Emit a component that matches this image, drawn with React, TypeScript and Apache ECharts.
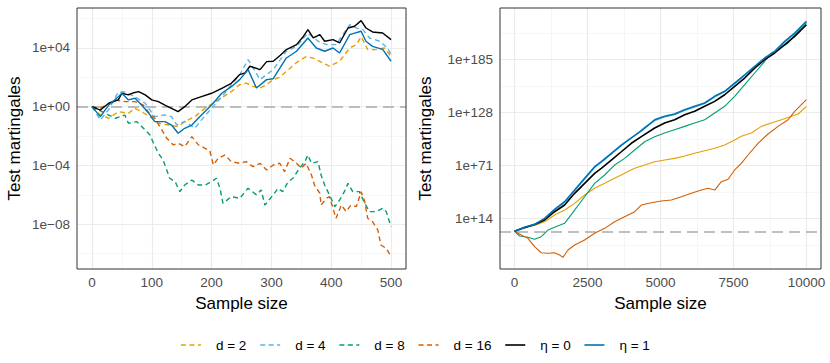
import React, { useEffect, useRef } from "react";
import * as echarts from "echarts";

// Values are log10 of the test martingale: [sample size, log10(value)]
const seriesNames = ["d = 2", "d = 4", "d = 8", "d = 16", "η = 0", "η = 1"];
const seriesColors = ["#E69F00", "#56B4E9", "#009E73", "#D55E00", "#000000", "#0072B2"];
const seriesDashed = [true, true, true, true, false, false];

// ---- Left panel (n up to 500)
const d2Left = [[0,0],[14,-0.56],[28,-0.79],[44,-0.34],[61,-0.45],[72,-0.11],[83,-0.34],[97,-0.68],[111,-1.13],[128,-1.25],[144,-1.36],[155,-1.02],[172,-0.68],[189,-0.11],[211,0.46],[233,1.02],[247,1.5],[258,1.6],[269,1.38],[281,1.27],[292,1.5],[303,1.84],[314,2.0],[325,2.4],[342,3.0],[358,3.4],[370,3.3],[386,2.97],[397,2.75],[414,3.09],[431,3.99],[442,4.22],[450,4.76],[461,3.88],[475,3.88],[489,3.99],[500,3.4]];
const d4Left = [[0,0],[14,-0.9],[28,-0.2],[44,1.0],[55,1.0],[72,0.68],[89,0.23],[105,-0.68],[122,-0.56],[133,-0.68],[142,-1.25],[155,-1.0],[172,-1.47],[183,-0.9],[200,-0.11],[217,0.68],[233,1.47],[247,2.16],[261,3.2],[281,1.84],[303,2.52],[325,3.77],[342,4.1],[361,5.0],[378,4.45],[392,4.22],[408,4.22],[431,5.58],[442,5.35],[453,5.24],[464,4.67],[481,4.45],[494,3.99],[500,3.54]];
const d8Left = [[0,0],[22,-0.45],[39,-0.79],[55,-0.57],[61,-1.13],[75,-1.02],[86,-1.47],[97,-1.93],[103,-2.49],[111,-3.17],[119,-3.63],[125,-4.31],[130,-4.87],[139,-5.1],[147,-5.78],[155,-5.33],[167,-4.99],[178,-5.33],[189,-5.33],[200,-5.1],[208,-4.87],[214,-5.55],[219,-6.57],[233,-6.12],[247,-6.23],[261,-5.55],[275,-6.0],[283,-5.66],[289,-6.69],[303,-6.0],[311,-5.55],[319,-5.78],[328,-5.1],[336,-4.87],[347,-4.19],[356,-3.74],[361,-3.29],[367,-3.85],[378,-3.74],[383,-4.65],[389,-5.33],[397,-6.0],[406,-6.8],[414,-6.35],[422,-5.78],[428,-5.21],[436,-5.78],[447,-5.78],[456,-6.57],[464,-7.14],[475,-7.14],[486,-6.91],[492,-7.14],[500,-8.16]];
const d16Left = [[0,0],[14,-0.1],[28,0.2],[39,0.46],[55,0.34],[72,0.34],[86,0.11],[94,-0.34],[105,-0.79],[117,-1.59],[125,-2.15],[136,-2.6],[144,-2.49],[155,-2.72],[167,-2.04],[178,-2.6],[189,-2.83],[197,-3.0],[203,-3.97],[211,-3.51],[222,-3.29],[233,-3.74],[247,-3.85],[258,-3.74],[269,-4.08],[281,-3.85],[292,-4.31],[303,-3.97],[314,-3.85],[322,-4.42],[331,-3.51],[342,-3.85],[350,-4.19],[358,-3.85],[367,-4.65],[372,-5.33],[381,-5.89],[383,-6.69],[392,-6.23],[397,-6.12],[408,-7.59],[417,-6.69],[425,-7.14],[433,-6.69],[442,-6.8],[450,-5.78],[456,-6.46],[461,-7.59],[469,-7.82],[478,-8.39],[483,-9.41],[492,-9.64],[500,-10.2]];
const eta0Left = [[0,0],[14,-0.23],[28,0.23],[44,0.46],[50,0.91],[61,0.8],[70,0.95],[78,1.02],[89,0.8],[100,0.46],[111,0.34],[122,0.11],[133,-0.11],[144,-0.34],[155,0],[167,0.46],[183,0.68],[200,0.91],[217,1.25],[233,1.59],[247,2.18],[256,2.3],[264,2.75],[281,2.52],[292,3.06],[303,3.09],[315,3.5],[325,3.88],[342,4.22],[352,4.7],[361,5.24],[370,4.67],[381,4.9],[389,4.45],[403,4.56],[414,4.33],[428,5.35],[439,5.47],[450,5.85],[458,5.35],[469,5.08],[486,5.01],[500,4.56]];
const eta1Left = [[0,0],[14,-0.68],[28,0.11],[44,0.68],[50,0.91],[61,0.46],[72,0.57],[83,0.11],[97,-0.56],[105,-1.02],[122,-1.02],[133,-1.25],[144,-1.81],[155,-1.47],[167,-1.25],[183,-0.56],[200,0.11],[217,0.91],[233,1.36],[247,1.84],[261,2.52],[275,1.27],[292,1.84],[303,1.9],[325,3.31],[342,3.77],[361,4.67],[375,3.99],[389,3.77],[403,3.99],[414,3.65],[431,4.9],[439,5.0],[450,5.13],[458,4.45],[469,4.1],[486,3.9],[500,3.09]];

// ---- Right panel (n up to 10000)
const d2Right = [[0,0],[343,4.3],[686,6.4],[1029,10.3],[1371,17.5],[1714,22.9],[2057,30.1],[2400,39.1],[2743,46.3],[3086,51.6],[3428,57],[3771,62.4],[4114,67.8],[4457,71.3],[4800,74.9],[5142,76.7],[5485,78.5],[5828,81],[6171,83.9],[6514,86.7],[6856,89.3],[7199,92.8],[7542,98.2],[7770,102.2],[8114,105.7],[8457,112.9],[8800,116.5],[9142,120],[9485,123.7],[9714,126.2],[10000,134.5]];
const d4Right = [[0,0],[343,4],[686,7],[1029,13],[1371,22.5],[1714,31],[2057,43.5],[2400,56],[2743,68.5],[3086,77],[3428,86],[3771,95],[4114,103],[4457,112],[4800,119],[5142,123],[5485,125.5],[5828,130],[6171,133.5],[6514,137.5],[6856,144.5],[7199,150],[7542,158.5],[7885,167.5],[8228,176.5],[8571,185.5],[8914,193],[9256,203.5],[9599,212.5],[10000,225.5]];
const d8Right = [[0,0],[171,-5],[457,-6.4],[686,-8.6],[914,-5.8],[1143,1.4],[1371,4.3],[1714,8.6],[2057,22.9],[2400,37.2],[2743,51.6],[3086,60.6],[3428,71.3],[3771,78.5],[4114,87.5],[4457,96.4],[4800,101.8],[5142,105.7],[5485,109.3],[5828,112.9],[6171,116.5],[6514,120],[6856,127.2],[7199,134.5],[7542,145.2],[7885,157.7],[8228,170.3],[8571,182.9],[8800,191.8],[9028,195.3],[9371,202.5],[9600,211],[10000,224]];
const d16Right = [[0,0],[229,-4],[457,-7.5],[686,-16.5],[914,-23],[1143,-23.6],[1371,-23],[1543,-25.5],[1657,-28],[1829,-20],[2057,-14.7],[2400,-9.3],[2743,-2.1],[3086,3.2],[3428,10.3],[3771,15.7],[4114,21.1],[4343,28.3],[4686,30.8],[5028,32.6],[5371,33.7],[5714,37.2],[6057,40.9],[6400,44.4],[6628,46.3],[6856,44.4],[7085,53.4],[7314,56],[7542,66],[7770,73.2],[8000,82.1],[8342,94.7],[8685,104.7],[9028,112.9],[9371,120],[9599,129.1],[9828,136.2],[10000,141.6]];
const eta0Right = [[0,0],[343,4],[686,7.3],[1029,12.2],[1371,21.1],[1714,28.3],[2057,40.9],[2400,51.6],[2743,62.4],[2971,67.8],[3314,76.7],[3657,85.6],[4000,94.7],[4343,101.8],[4800,111.1],[5142,116.5],[5485,120],[5828,125.4],[6171,129.1],[6514,134.5],[6856,139.8],[7199,146.9],[7542,156],[7885,164.9],[8228,175.6],[8571,184.6],[8914,191.8],[9256,200.7],[9599,209.7],[10000,222.2]];
const eta1Right = [[0,0],[343,4.3],[686,7.5],[1029,14],[1371,23.7],[1714,31.9],[2057,44.4],[2400,57],[2743,69.5],[2971,74.9],[3314,83.9],[3657,92.8],[4000,100.5],[4343,108],[4800,120],[5142,123.7],[5485,126.2],[5828,130.8],[6171,134.5],[6514,138],[6856,145.2],[7199,150.6],[7542,159.5],[7885,168.4],[8228,177.5],[8571,186.4],[8914,193.6],[9256,204.4],[9599,213.3],[10000,225.9]];

// ---- Axes (ticks in log10 units)
const leftXTicks = [0, 100, 200, 300, 400, 500];
const leftXMinor = [50, 150, 250, 350, 450];
const leftYTicks = [-8, -4, 0, 4];
const leftYMinor = [-10, -6, -2, 2, 6];
const rightXTicks = [0, 2500, 5000, 7500, 10000];
const rightXMinor = [1250, 3750, 6250, 8750];
const rightYTicks = [14, 71, 128, 185];
const rightYMinor = [-14.5, 42.5, 99.5, 156.5, 213.5];

const leftData = [d2Left, d4Left, d8Left, d16Left, eta0Left, eta1Left];
const rightData = [d2Right, d4Right, d8Right, d16Right, eta0Right, eta1Right];

const FONT = "'Liberation Sans', Arial, Helvetica, sans-serif";

const fmtExp = (v: number) => {
  const a = Math.abs(v);
  const s = a < 10 ? "0" + a : String(a);
  return "1e" + (v < 0 ? "\u2212" : "+") + s;
};

function gridHelper(idx: number, xMaj: number[], xMin: number[], yMaj: number[], yMin: number[]) {
  const major = { color: "#EBEBEB", width: 1.2, type: "solid" };
  const minor = { color: "#F2F2F2", width: 0.7, type: "solid" };
  return [
    {
      type: "line",
      name: "_grid" + idx,
      xAxisIndex: idx,
      yAxisIndex: idx,
      data: [],
      silent: true,
      z: 1,
      markLine: {
        silent: true,
        z: 1,
        animation: false,
        symbol: ["none", "none"],
        label: { show: false },
        emphasis: { disabled: true },
        data: [
          ...xMin.map((v) => ({ xAxis: v, lineStyle: minor })),
          ...yMin.map((v) => ({ yAxis: v, lineStyle: minor })),
          ...xMaj.map((v) => ({ xAxis: v, lineStyle: major })),
          ...yMaj.map((v) => ({ yAxis: v, lineStyle: major })),
        ],
      },
    },
    {
      type: "line",
      name: "_zero" + idx,
      xAxisIndex: idx,
      yAxisIndex: idx,
      data: [],
      silent: true,
      z: 2,
      markLine: {
        silent: true,
        z: 2,
        animation: false,
        symbol: ["none", "none"],
        label: { show: false },
        emphasis: { disabled: true },
        data: [{ yAxis: 0, lineStyle: { color: "#ABABAB", width: 1.5, type: [11, 6] } }],
      },
    },
  ];
}

function dataSeries(idx: number, datasets: number[][][], left: boolean) {
  return datasets.map((d, i) => ({
    type: "line",
    name: seriesNames[i],
    xAxisIndex: idx,
    yAxisIndex: idx,
    data: d,
    showSymbol: false,
    symbol: "none",
    silent: true,
    z: 3 + i,
    lineStyle: {
      color: seriesColors[i],
      width: left ? 1.4 : seriesDashed[i] ? 1.1 : 1.6,
      type: left && seriesDashed[i] ? [5, 3.5] : "solid",
    },
    itemStyle: { color: seriesColors[i] },
  }));
}

function xAxis(idx: number, min: number, max: number, ticks: number[]) {
  return {
    type: "value",
    gridIndex: idx,
    min,
    max,
    name: "Sample size",
    nameLocation: "middle",
    nameGap: 26,
    nameTextStyle: { color: "#000", fontSize: 17, fontFamily: FONT },
    axisLine: { show: false },
    axisTick: { show: true, length: 4, customValues: ticks, lineStyle: { color: "#333333", width: 1 } },
    axisLabel: { customValues: ticks, color: "#4D4D4D", fontSize: 13.5, fontFamily: FONT, margin: 6, formatter: (v: number) => String(v) },
    splitLine: { show: false },
  };
}

function yAxis(idx: number, min: number, max: number, ticks: number[], gap: number) {
  return {
    type: "value",
    gridIndex: idx,
    min,
    max,
    name: "Test martingales",
    nameLocation: "middle",
    nameGap: gap,
    nameRotate: 90,
    nameTextStyle: { color: "#000", fontSize: 17, fontFamily: FONT },
    axisLine: { show: false },
    axisTick: { show: true, length: 4, customValues: ticks, lineStyle: { color: "#333333", width: 1 } },
    axisLabel: { customValues: ticks, color: "#4D4D4D", fontSize: 13.5, fontFamily: FONT, margin: 7, formatter: (v: number) => fmtExp(v) },
    splitLine: { show: false },
  };
}

const option = {
  animation: false,
  backgroundColor: "#ffffff",
  textStyle: { fontFamily: FONT },
  grid: [
    { left: 77, top: 8, width: 329, height: 261, show: true, borderColor: "#333333", borderWidth: 1, backgroundColor: "transparent", containLabel: false, z: 10 },
    { left: 500, top: 8, width: 321, height: 261, show: true, borderColor: "#333333", borderWidth: 1, backgroundColor: "transparent", containLabel: false, z: 10 },
  ],
  xAxis: [xAxis(0, -25, 525, leftXTicks), xAxis(1, -500, 10500, rightXTicks)],
  yAxis: [yAxis(0, -11.04, 6.71, leftYTicks, 54), yAxis(1, -40.5, 240.2, rightYTicks, 66)],
  legend: {
    data: seriesNames,
    left: "center",
    top: 333,
    itemWidth: 20,
    itemHeight: 14,
    itemGap: 13,
    itemStyle: { color: "transparent", borderColor: "transparent", borderWidth: 0, opacity: 0 },
    lineStyle: { width: 1.6 },
    textStyle: { color: "#000", fontSize: 13.5, fontFamily: FONT, padding: [0, 0, 0, 10] },
    selectedMode: false,
  },
  series: [
    ...gridHelper(0, leftXTicks, leftXMinor, leftYTicks, leftYMinor),
    ...gridHelper(1, rightXTicks, rightXMinor, rightYTicks, rightYMinor),
    ...dataSeries(0, leftData, true),
    ...dataSeries(1, rightData, false),
  ],
};

export default function App() {
  const ref = useRef<HTMLDivElement>(null);
  useEffect(() => {
    const chart = echarts.init(ref.current!, null, { renderer: "svg" });
    chart.setOption(option as any);
    return () => chart.dispose();
  }, []);
  return (
    <div
      ref={ref}
      style={{ position: "absolute", left: 0, top: 0, width: 830, height: 363, background: "#fff" }}
    />
  );
}
